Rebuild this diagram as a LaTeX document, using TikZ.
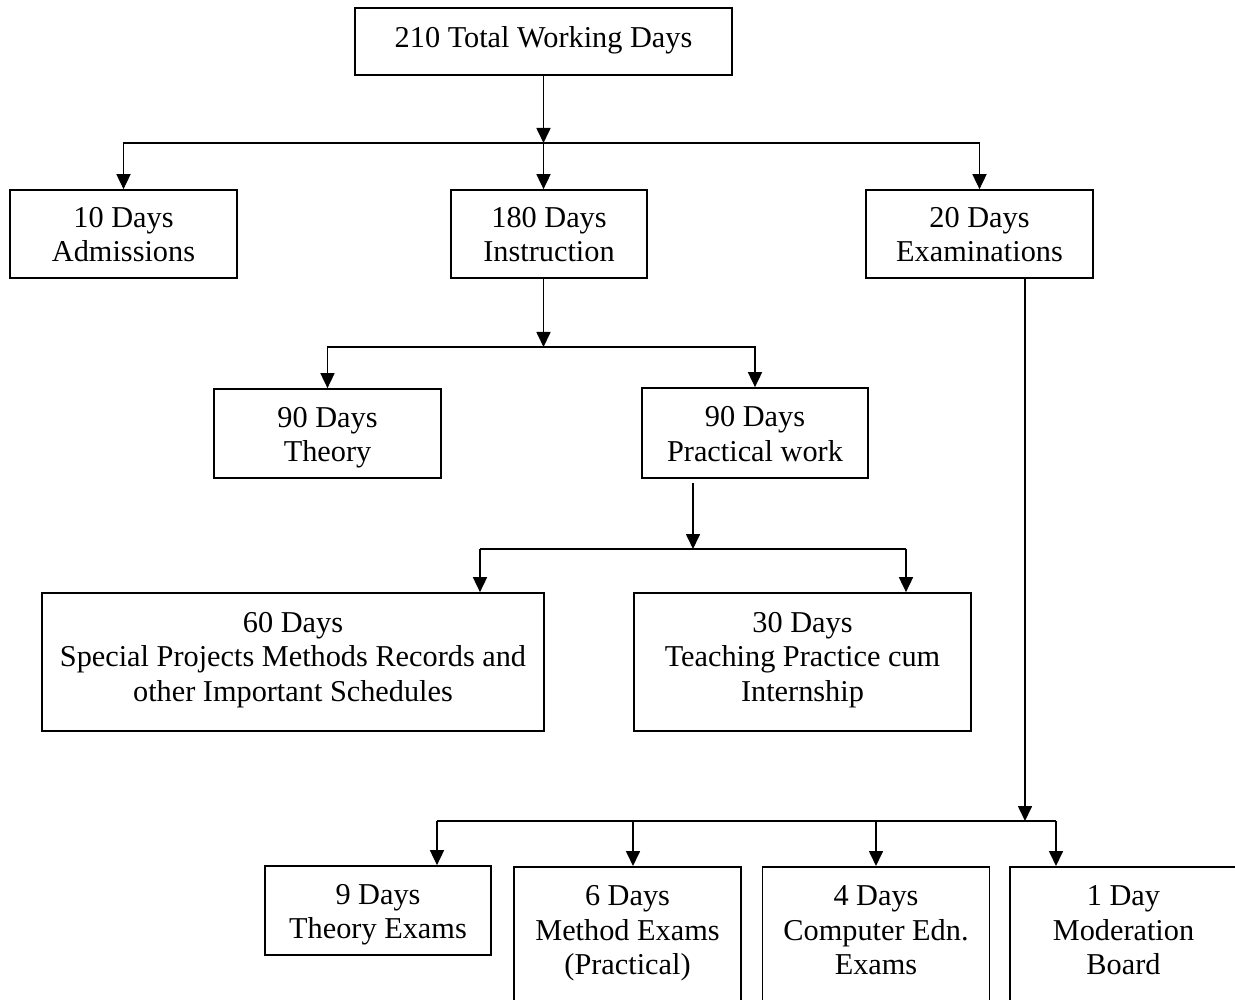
\documentclass[tikz,border=0pt]{standalone}
\usepackage{fontspec}
\setmainfont{Liberation Serif}
\usetikzlibrary{arrows.meta,calc}
\tikzset{
  box/.style={draw, line width=1.7pt, align=center, inner sep=0pt,
    font=\fontsize{30.3}{34.5}\selectfont},
  onebox/.style={box, text height=20pt, text depth=7pt},
  twobox/.style={box, text height=62pt, text depth=6pt},
  threebox/.style={box, text height=90pt, text depth=12pt},
  openbox/.style={box, anchor=north, minimum width=227pt, text height=90pt,
    text depth=150pt, inner xsep=0pt, inner ysep=18pt},
  conn/.style={line width=1.7pt},
  arr/.style={conn, -{Triangle[width=14pt,length=15pt]}}
}
\begin{document}
\begin{tikzpicture}[x=1pt,y=-1pt]
\useasboundingbox (0,0) rectangle (1235,1000);
\clip (0,0) rectangle (1235,1000);
% boxes
\node[onebox, minimum width=377pt, minimum height=67pt] (top) at (543.5,41.5) {210 Total Working Days};
\node[twobox, minimum width=227pt, minimum height=88pt] (adm) at (123.5,234) {10 Days\\Admissions};
\node[twobox, minimum width=196pt, minimum height=88pt] (ins) at (549,234) {180 Days\\Instruction};
\node[twobox, minimum width=227pt, minimum height=88pt] (exa) at (979.5,234) {20 Days\\Examinations};
\node[twobox, minimum width=227pt, minimum height=89pt] (the) at (327.5,433.5) {90 Days\\Theory};
\node[twobox, minimum width=226pt, minimum height=90pt] (pra) at (755,433) {90 Days\\Practical work};
\node[threebox, minimum width=502pt, minimum height=138pt] (spe) at (293,662) {60 Days\\Special Projects Methods Records and\\other Important Schedules};
\node[threebox, minimum width=337pt, minimum height=138pt] (tea) at (802.5,662) {30 Days\\Teaching Practice cum\\Internship};
\node[twobox, minimum width=226pt, minimum height=89pt] (nin) at (378,910.5) {9 Days\\Theory Exams};
\node[openbox] (six) at (627.5,866) {6 Days\\Method Exams\\(Practical)};
\node[openbox] (fou) at (876,866) {4 Days\\Computer Edn.\\Exams};
\node[openbox] (one) at (1123.5,866) {1 Day\\Moderation\\Board};
% level 1
\coordinate (b1) at (543.5,143);
\draw[arr] (top.south) -- (b1);
\draw[arr] (b1) -| (adm.north);
\draw[arr] (b1) -| (exa.north);
\draw[arr] (b1) -- (b1 |- ins.north);
% level 2
\coordinate (b2) at (543.5,347);
\draw[arr] (b1 |- ins.south) -- (b2);
\draw[arr] (b2) -| (the.north);
\draw[arr] (b2) -| (pra.north);
% level 3
\coordinate (b3) at (693,549);
\coordinate (b3l) at (480,549);
\coordinate (b3r) at (906,549);
\draw[arr] ($(b3 |- pra.south)+(0,4)$) -- (b3);
\draw[conn] (b3l) -- (b3r);
\draw[arr] (b3l) -- (b3l |- spe.north);
\draw[arr] (b3r) -- (b3r |- tea.north);
% exams
\coordinate (b4) at (1025,821);
\coordinate (e1) at (437,821);
\coordinate (e2) at (633,821);
\coordinate (e3) at (876,821);
\coordinate (e4) at (1056,821);
\draw[arr] (b4 |- exa.south) -- (b4);
\draw[conn] (e1) -- (e4);
\draw[arr] (e1) -- (e1 |- nin.north);
\draw[arr] (e2) -- (e2 |- six.north);
\draw[arr] (e3) -- (e3 |- fou.north);
\draw[arr] (e4) -- (e4 |- one.north);
\end{tikzpicture}
\end{document}
